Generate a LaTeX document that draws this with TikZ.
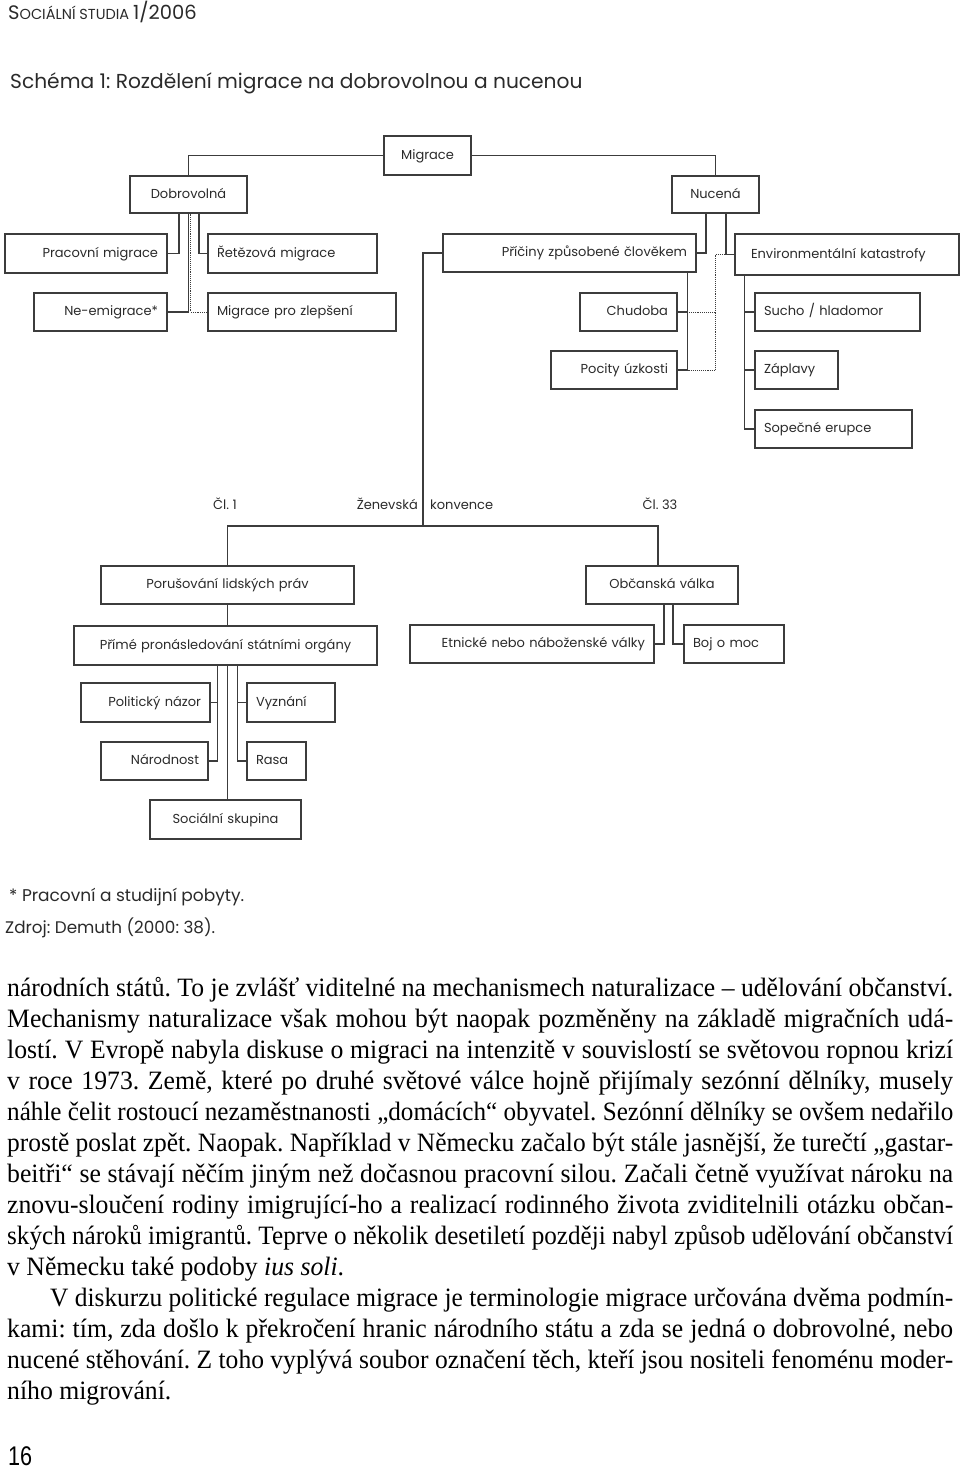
\documentclass[tikz,border=0pt]{standalone}
\usepackage{fontspec}
\setmainfont{Liberation Serif}[FakeStretch=0.97]
\newfontfamily\dg{Poppins}
\newfontfamily\pgn{Liberation Sans}
\usepackage{graphicx}
\usetikzlibrary{calc}
\definecolor{lc}{HTML}{3C3C3C}
\definecolor{tc}{HTML}{2A2A2A}
\frenchspacing
\newsavebox\lnbox
\newcommand\jline[2][946pt]{\sbox\lnbox{#2}\ifdim\wd\lnbox>#1\relax\resizebox{#1}{\height}{\usebox\lnbox}\else\makebox[#1][s]{#2}\fi}
\newcommand\bx[7][center]{%
  \pgfmathsetmacro\bxw{#5-#3-18}%
  \pgfmathsetmacro\bxh{#6-#4}%
  \pgfmathsetmacro\bxcx{(#3+#5)/2}%
  \pgfmathsetmacro\bxcy{(#4+#6)/2}%
  \node[box, text width=\bxw pt, minimum height=\bxh pt, align=#1] (#2) at (\bxcx,\bxcy) {#7};}
\tikzset{
  box/.style={draw=lc, line width=1.1pt, inner xsep=9pt, inner ysep=0pt,
    font=\dg\fontsize{13}{15}\selectfont, text=tc, text height=10pt, text depth=3pt},
  conn/.style={draw=lc, line width=1.1pt},
  dots/.style={draw=lc, line width=0.9pt, densely dotted},
  lbl/.style={inner sep=0pt, font=\dg\fontsize{13}{15}\selectfont, text=tc, text height=10pt, text depth=3pt},
  note/.style={inner sep=0pt, anchor=west, text=tc},
  body/.style={inner sep=0pt, anchor=base west, font=\fontsize{26.5}{30}\selectfont, text=black}
}
\begin{document}
\begin{tikzpicture}[x=1pt,y=-1pt]
\useasboundingbox (0,0) rectangle (960,1469);
% header and title
\node[note] (hdr) at (8,12) {\dg\fontsize{19.5}{20}\selectfont S\fontsize{14.5}{15}\selectfont OCIÁLNÍ STUDIA \fontsize{19.5}{20}\selectfont 1/2006};
\node[note] (title) at (10,83) {\dg\fontsize{20.2}{24}\selectfont Schéma 1: Rozdělení migrace na dobrovolnou a nucenou};
% boxes
\bx{migrace}{384}{136}{471}{175}{Migrace}
\bx{dobro}{130}{176}{247}{213}{Dobrovolná}
\bx{nucena}{672}{176}{759}{213}{Nucená}
\bx[right]{prac}{5}{234}{167}{273}{Pracovní migrace}
\bx[left]{ret}{208}{234}{377}{273}{Řetězová migrace}
\bx[right]{neem}{34}{293}{167}{331}{Ne-emigrace*}
\bx[left]{zlep}{208}{293}{396}{331}{Migrace pro zlepšení}
\bx[right]{pric}{443}{234}{696}{272}{Příčiny způsobené člověkem}
\bx[left]{env}{735}{234}{959}{275}{\hspace*{7pt}Environmentální katastrofy}
\bx[right]{chud}{580}{293}{677}{331}{Chudoba}
\bx[left]{sucho}{755}{293}{920}{331}{Sucho / hladomor}
\bx[right]{pocity}{551}{351}{677}{389}{Pocity úzkosti}
\bx[left]{zapl}{755}{351}{838}{389}{Záplavy}
\bx[left]{sopec}{755}{410}{912}{448}{Sopečné erupce}
\bx{poru}{101}{566}{354}{604}{Porušování lidských práv}
\bx{obc}{586}{566}{738}{604}{Občanská válka}
\bx{prime}{74}{626}{377}{665}{Přímé pronásledování státními orgány}
\bx[right]{etn}{410}{625}{654}{663}{Etnické nebo náboženské války}
\bx[left]{boj}{684}{625}{784}{663}{Boj o moc}
\bx[right]{polit}{81}{683}{210}{722}{Politický názor}
\bx[left]{vyzn}{247}{683}{335}{722}{Vyznání}
\bx[right]{narod}{101}{742}{208}{780}{Národnost}
\bx[left]{rasa}{247}{742}{306}{780}{Rasa}
\bx{soc}{150}{800}{301}{839}{Sociální skupina}
% labels
\node[lbl] (cl1) at (225,506) {Čl. 1};
\node[lbl, anchor=east] (zen) at (418,506) {Ženevská};
\node[lbl, anchor=west] (konv) at (430,506) {konvence};
\node[lbl] (cl33) at (660,506) {Čl. 33};
% connectors
\draw[conn] (migrace.west) -| (dobro.north);
\draw[conn] (migrace.east) -| (nucena.north);
\draw[conn] ([xshift=-9.5pt]dobro.south) |- (prac.east);
\draw[conn] ([xshift=10.5pt]dobro.south) |- (ret.west);
\draw[conn] (dobro.south) |- (neem.east);
\draw[dots] ([xshift=2pt]dobro.south) |- (zlep.west);
\draw[conn] ([xshift=-9.5pt]nucena.south) |- (pric.east);
\draw[conn] ([xshift=10.5pt]nucena.south) |- (env.west);
\draw[dots] (env.west) -| (nucena.south |- pocity.east) -- (pocity.east);
\draw[dots] (chud.east) -- (chud.east -| nucena.south);
\coordinate (pv) at ([xshift=-9pt]pric.south east);
\draw[conn] (pv) |- (pocity.east);
\draw[conn] (pv) |- (chud.east);
\coordinate (ev) at ([xshift=10pt]env.south west);
\draw[conn] (ev) |- (sopec.west);
\draw[conn] (ev) |- (sucho.west);
\draw[conn] (ev) |- (zapl.west);
\coordinate (junc) at (423,526);
\draw[conn] (pric.west) -| (junc);
\draw[conn] (poru.north) |- (junc) -| ([xshift=-4pt]obc.north);
\draw[conn] (poru.south) -- (poru.south |- prime.north);
\draw[conn] ([xshift=2pt]obc.south) |- (etn.east);
\draw[conn] ([xshift=11pt]obc.south) |- (boj.west);
\coordinate (pm) at (prime.south -| poru.south);
\draw[conn] ([xshift=-10pt]pm) |- (narod.east);
\draw[conn] ([xshift=-10pt]pm) |- (polit.east);
\draw[conn] ([xshift=10pt]pm) |- (rasa.west);
\draw[conn] ([xshift=10pt]pm) |- (vyzn.west);
\draw[conn] (pm) -- (pm |- soc.north);
% notes
\node[note] (fn1) at (9,897) {\dg\fontsize{17}{19}\selectfont * Pracovní a studijní pobyty.};
\node[note] (fn2) at (5,928) {\dg\fontsize{16.8}{19}\selectfont Zdroj: Demuth (2000: 38).};
% body text
\node[body] (l1) at (7,996) {\jline{národních států. To je zvlášť viditelné na mechanismech naturalizace – udělování občanství.}};
\node[body] (l2) at (7,1027) {\jline{Mechanismy naturalizace však mohou být naopak pozměněny na základě migračních udá-}};
\node[body] (l3) at (7,1058) {\jline{lostí. V Evropě nabyla diskuse o migraci na intenzitě v souvislostí se světovou ropnou krizí}};
\node[body] (l4) at (7,1089) {\jline{v roce 1973. Země, které po druhé světové válce hojně přijímaly sezónní dělníky, musely}};
\node[body] (l5) at (7,1120) {\jline{náhle čelit rostoucí nezaměstnanosti „domácích“ obyvatel. Sezónní dělníky se ovšem nedařilo}};
\node[body] (l6) at (7,1151) {\jline{prostě poslat zpět. Naopak. Například v Německu začalo být stále jasnější, že turečtí „gastar-}};
\node[body] (l7) at (7,1182) {\jline{beitři“ se stávají něčím jiným než dočasnou pracovní silou. Začali četně využívat nároku na}};
\node[body] (l8) at (7,1213) {\jline{znovu-sloučení rodiny imigrující-ho a realizací rodinného života zviditelnili otázku občan-}};
\node[body] (l9) at (7,1244) {\jline{ských nároků imigrantů. Teprve o několik desetiletí později nabyl způsob udělování občanství}};
\node[body] (l10) at (7,1275) {v Německu také podoby \textit{ius soli}.};
\node[body] (l11) at (50,1306) {\jline[903pt]{V diskurzu politické regulace migrace je terminologie migrace určována dvěma podmín-}};
\node[body] (l12) at (7,1337) {\jline{kami: tím, zda došlo k překročení hranic národního státu a zda se jedná o dobrovolné, nebo}};
\node[body] (l13) at (7,1368) {\jline{nucené stěhování. Z toho vyplývá soubor označení těch, kteří jsou nositeli fenoménu moder-}};
\node[body] (l14) at (7,1399) {ního migrování.};
\node[inner sep=0pt, anchor=base west, text=black] (pg) at (8,1465) {\pgn\fontsize{27}{27}\selectfont\scalebox{0.8}[1]{16}};
\end{tikzpicture}
\end{document}
